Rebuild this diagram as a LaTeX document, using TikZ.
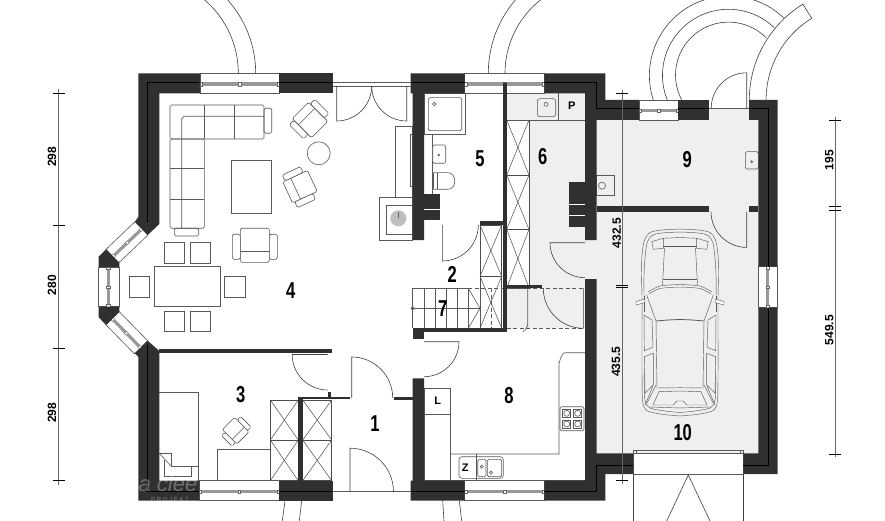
\documentclass[tikz,border=0pt]{standalone}
\usepackage{fontspec}
\setmainfont{Liberation Sans}
\newfontfamily\roomfont[FakeStretch=0.72]{Liberation Sans}
\usepackage{tikz}
\usetikzlibrary{calc, positioning}

\definecolor{wallgray}{HTML}{303030}
\definecolor{floorgray}{HTML}{EFEFEF}

\tikzset{
  wall/.style={fill=wallgray},
  core/.style={draw=black, line width=0.5pt},
  furn/.style={draw=black!65, line width=0.6pt},
  soft/.style={furn, rounded corners=1.5pt},
  crossline/.style={draw=black!70, line width=0.5pt},
  doorline/.style={draw=black!75, line width=0.6pt},
  carline/.style={draw=black!65, line width=0.45pt},
  dimline/.style={draw=black!60, line width=0.8pt},
  dimtick/.style={draw=black, line width=0.5pt},
  roomlabel/.style={font=\roomfont\fontsize{23}{23}\selectfont\bfseries, inner sep=0pt},
  marklabel/.style={font=\fontsize{11}{11}\selectfont\bfseries, inner sep=0pt},
  dimlabel/.style={font=\fontsize{12}{12}\selectfont\bfseries, inner sep=0pt, rotate=90},
  armchair/.pic={
    \draw[soft, fill=white] (-14.5,-17) rectangle (14.5,17);
    \draw[furn] (-14.5,6) -- (14.5,6);
    \draw[soft, fill=white] (-22.5,-11) rectangle (-14.5,14);
    \draw[soft, fill=white] (14.5,-11) rectangle (22.5,14);
  }
}

% x, y, length, depth, angle
\newcommand{\glazing}[5]{
  \begin{scope}[shift={(#1,#2)}, rotate=#5]
    \draw[furn, fill=white] (0,0) rectangle (#3,#4);
    \fill[black!40] (1,{0.45*#4}) rectangle ({#3-1},{0.62*#4});
    \foreach \sq in {1,0.5*#3,#3-1}
      \draw[draw=black!60, line width=0.3pt, fill=white] ({\sq-1.2},{0.45*#4}) rectangle ({\sq+1.2},{0.62*#4});
  \end{scope}
}

\begin{document}
\begin{tikzpicture}[x=1pt, y=-1pt]
  \useasboundingbox (0,0) rectangle (885,521);
  \clip (0,0) rectangle (885,521);
  \fill[white] (0,0) rectangle (885,521);

  % floors
  \fill[floorgray] (506.7,93.3) rectangle (597,328.3);
  \fill[floorgray] (596.7,120) -- (709.3,120) -- (709.3,108.3) -- (749,108.3) -- (749,120) -- (758.3,120) -- (758.3,453.3) -- (596.7,453.3) -- cycle;

  % swings outside
  \draw[doorline] (238.3,73.3) arc[start angle=0, end angle=-60, radius=96.7];
  \draw[doorline] (255.7,73.3) arc[start angle=0, end angle=-60, radius=110];
  \draw[doorline] (488.3,73.3) arc[start angle=180, end angle=240, radius=113];
  \draw[doorline] (505,73.3) arc[start angle=180, end angle=240, radius=93.6];
  \draw[doorline] (653.3,100) arc[start angle=162, end angle=314, radius=79.5];
  \draw[doorline] (667.3,100) arc[start angle=158, end angle=314, radius=66];
  \draw[doorline] (681.7,100) arc[start angle=152, end angle=315, radius=53];
  \draw[doorline] (749.3,100) arc[start angle=180, end angle=238.4, radius=112.5] -- (811.7,18.3) arc[start angle=238.4, end angle=180, radius=95.8];
  \draw[doorline] (285,500.7) -- (282.3,521);
  \draw[doorline] (301.7,500.7) -- (299.3,521);
  \draw[doorline] (442.7,500.7) -- (444,521);
  \draw[doorline] (459.3,500.7) -- (461.7,521);
  \draw[doorline] (633.3,453.3) -- (633.3,521);
  \draw[doorline] (743.3,453.3) -- (743.3,521);
  \draw[doorline] (666.7,521) -- (688.3,475) -- (710,521);

  % living room
  \draw[soft] (170,105) rectangle (264,139);
  \draw[soft] (170,139) rectangle (204.3,228.3);
  \draw[furn] (264,116.3) -- (184,116.3) to[out=180,in=-90] (181.7,119) -- (181.7,228.3);
  \draw[furn] (204.3,105) -- (204.3,139);
  \draw[furn] (234.3,105) -- (234.3,139);
  \foreach \rowy in {168.3,199}
    \draw[furn] (170,\rowy) -- (204.3,\rowy);
  \draw[soft] (264,108.3) rectangle (271.7,133.3);
  \draw[soft] (174.3,228.3) rectangle (198.7,236);
  \draw[furn] (231.3,160) rectangle (271.7,213.3);
  \draw[furn] (318.7,153.3) circle[radius=11.5];
  \pic[rotate=-135, scale=0.8] at (310,120) {armchair};
  \pic[rotate=-65, scale=0.8] at (300,186.7) {armchair};
  \pic at (254.8,245.3) {armchair};
  \draw[furn] (154,266.7) rectangle (220.7,306.7);
  \foreach \cx/\cy in {129.3/276.7,224.7/276.7,164/311,190.3/311,164/242.7,190.3/242.7}
    \draw[furn] (\cx,\cy) rectangle ++(20.2,20.4);
  \draw[furn] (395,126.7) rectangle (412.7,197.7);
  \draw[furn] (410.7,134.3) rectangle (412.7,186.7);
  \draw[furn] (379.3,197.7) rectangle (412.7,240);
  \draw[furn] (386,205) rectangle (412.7,234);
  \fill[black!25] (398.3,218.3) circle[radius=8];
  \draw[black!60, line width=0.8pt] (398.3,212) -- (398.3,218.3);

  % room 3
  \draw[furn] (159.3,392.3) -- (198.3,392.3) -- (198.3,480.7);
  \draw[furn] (159.3,453.3) -- (171,453.3) -- (171,466) -- (198.3,466);
  \draw[furn] (159.3,453.3) -- (171,466);
  \draw[furn] (164,460) -- (164,476.7) -- (191.7,476.7) -- (191.7,466);
  \draw[furn] (217.3,449.3) rectangle (270.3,480.7);
  \pic[rotate=45, scale=0.6] at (235.7,430.7) {armchair};
  \foreach \bx/\by/\bw/\bh in {270.3/400/28/40, 270.3/440/28/40.7, 302.7/400/29/40, 302.7/440/29/40.7, 480/225/21.7/51.3, 480/276.3/21.7/52, 506.7/120/22.3/55, 506.7/175/22.3/54.3, 506.7/229.3/22.3/58.7}{
    \fill[white] (\bx,\by) rectangle ++(\bw,\bh);
    \draw[crossline] (\bx,\by) rectangle ++(\bw,\bh);
    \draw[crossline] (\bx,\by) -- ++(\bw,\bh);
    \draw[crossline] (\bx+\bw,\by) -- ++(-\bw,\bh);
  }

  % bathroom
  \draw[furn] (424,93.3) rectangle (465,134);
  \draw[soft] (428.3,97.7) rectangle (461.7,130.7);
  \draw[furn] (434.3,104) circle[radius=1.8];
  \draw[furn] (424,134) -- (432.7,134) -- (432.7,194.3);
  \draw[soft, fill=white] (432.7,145) rectangle (445.7,163.3);
  \draw[furn] (438.7,155) circle[radius=1];
  \draw[furn] (433.3,172.7) -- (433.3,189.3);
  \draw[furn] (437.3,172.7) -- (437.3,189.3);
  \draw[furn] (433.3,172.7) -- (448,172.7) to[out=0,in=0,looseness=1.4] (448,189.3) -- (433.3,189.3);

  % room 6
  \draw[furn] (506.7,120) -- (585,120);
  \draw[furn] (558.3,93.3) -- (558.3,120);
  \draw[soft, rounded corners=2.5pt] (537.3,98.7) rectangle (555.7,116.7);
  \draw[furn] (546,104.3) circle[radius=2];
  \draw[furn] (527.7,288.3) -- (527.7,326) to[out=90,in=0] (523,331.7);
  \draw[furn, dashed, dash pattern=on 4pt off 2.5pt] (468.3,288.3) -- (585,288.3);
  \draw[furn, dashed, dash pattern=on 4pt off 2.5pt] (506.7,328.3) -- (585,328.3);

  % stairs
  \draw[furn] (468.3,288.3) -- (412.7,288.3) -- (412.7,328.3);
  \foreach \sx in {424,435,446.7,457.3,468.3,480}
    \draw[furn] (\sx,288.3) -- (\sx,328.3);
  \draw[furn] (412.7,308.3) -- (480,308.3);
  \draw[furn] (412.7,308.3) circle[radius=1.8];
  \draw[furn] (468.3,288.3) -- (480,308.3) -- (468.3,328.3);
  \draw[furn, dashed, dash pattern=on 4pt off 2.5pt] (491,288.3) -- (491,328.3);

  % kitchen
  \draw[furn] (424,388) rectangle (450.7,480.7);
  \draw[furn] (424,414.3) -- (450.7,414.3);
  \draw[furn] (450.7,454) -- (559,454) -- (559,362) to[out=-90,in=180] (565,352.7) -- (585,352.7);
  \draw[furn] (450.7,480) -- (585,480);
  \draw[furn] (476.7,454) -- (476.7,480.7);
  \draw[soft, rounded corners=3pt] (459,456.7) rectangle (503.3,478.3);
  \draw[soft] (477.7,459.3) rectangle (486,476.7);
  \draw[soft] (487.3,459.3) rectangle (501.7,476.7);
  \draw[furn] (481.7,466.7) circle[radius=1.6];
  \draw[furn] (491,472.7) circle[radius=1.6];
  \draw[soft, rounded corners=2pt] (560,406.7) rectangle (584,430.7);
  \foreach \hx in {566.7,577.7}
    \foreach \hy in {413.3,424}{
      \draw[furn] (\hx-4,\hy-4) rectangle (\hx+4,\hy+4);
      \draw[furn] (\hx,\hy) circle[radius=3];
    }

  % garage
  \draw[furn] (596.7,175.7) rectangle (614.3,195);
  \draw[furn] (602,185.7) circle[radius=3.5];
  \draw[soft] (745.3,151.7) rectangle (758.3,169);
  \draw[furn] (751.7,161.7) circle[radius=1];
  \draw[furn, fill=white] (633.3,453.3) rectangle (743.3,474);
  \draw[furn] (633.3,450.7) rectangle (743.3,453.3);
  \draw[furn] (636.5,450.7) -- (636.5,453.3) (740.3,450.7) -- (740.3,453.3);

  % car
  \foreach \side in {1,-1}{
    \begin{scope}[shift={(680,0)}, xscale=\side]
      \draw[carline] plot[smooth] coordinates {(0,229)(18,230)(30,232.5)(35.5,240)(38,255)(38.5,275)(38,296)(38,330)(38,372)(37.5,400)(34,410)(20,414)(0,416)};
      \draw[carline] plot[smooth] coordinates {(0,232)(18,233)(28,235.5)(33,243)(35,258)(36,275)(36,296)};
      \draw[carline] plot[smooth] coordinates {(36,375)(35,400)(30,408)(15,411)(0,412.5)};
      \draw[carline] (16.7,238.3) -- (28.3,241.7) -- (26.7,249.3) -- (16.7,248.3) -- cycle;
      \draw[carline] (0,237.5) -- (16.7,238.3);
      \draw[carline] (0,246) -- (16.7,246);
      \draw[carline] (15.5,248) -- (17.5,285);
      \draw[carline] (0,279) -- (17,279);
      \draw[carline] plot[smooth] coordinates {(0,284.5)(20,286)(32,292)};
      \draw[carline] plot[smooth] coordinates {(0,287)(20,288.5)(31,294)};
      \draw[carline] (33.3,295) -- (24,321);
      \draw[carline] (36,296) -- (36,312);
      \draw[carline] (36,315) -- (28,320) -- (27,347.3) -- (35.7,350.7) -- cycle;
      \draw[carline] (35.7,356.7) -- (26.7,353.3) -- (26.7,385) -- (35,393) -- cycle;
      \draw[carline, line width=0.8pt] plot[smooth] coordinates {(0,319.5)(12,320)(24,321)};
      \draw[carline] (24,321) -- (23,388);
      \draw[carline] (0,387.7) -- (23,388);
      \draw[carline] (24,385) -- (33,403);
      \draw[carline] (27,386) -- (35,405);
      \draw[carline] (0,391) -- (21,391.7) -- (27,405) -- (6.7,405) -- (3.3,401) -- (0,401);
      \draw[carline] (0,408) -- (30,407);
      \draw[carline, fill=white, rounded corners=1pt] (35,299) -- (44,301.5) -- (44,305) -- (35,302.5) -- cycle;
    \end{scope}
  }

  % windows
  \glazing{200}{73.3}{79}{20}{0}
  \glazing{199.3}{480.7}{79.7}{20}{0}
  \glazing{464.7}{73.3}{79.6}{20}{0}
  \glazing{464.7}{480.7}{79.6}{20}{0}
  \glazing{639}{100}{39.3}{20}{0}
  \glazing{777.7}{266.7}{41}{19.4}{-90}
  \glazing{119.3}{267}{39.7}{20.6}{-90}
  \glazing{106}{249.3}{40}{18.6}{43.6}
  \glazing{119.3}{311.7}{40.6}{18.7}{-45.6}

  % walls
  \fill[wall] (200,73.3) -- (138.3,73.3) -- (138.3,216.7) -- (135,221.7) -- (147.7,235) -- (159.3,224) -- (159.3,93.3) -- (200,93.3) -- cycle;
  \fill[wall] (147.7,340.7) -- (135,353.3) -- (138.3,357) -- (138.3,500.7) -- (199.3,500.7) -- (199.3,480.7) -- (159.3,480.7) -- (159.3,351) -- cycle;
  \fill[wall] (106,249.3) -- (98.7,256.7) -- (98.7,267) -- (119.3,267) -- (119.3,262.7) -- cycle;
  \fill[wall] (98.7,306.7) -- (98.7,317.3) -- (106,325) -- (119.3,311.7) -- (119.3,306.7) -- cycle;
  \fill[wall] (410.7,73.3) -- (464.7,73.3) -- (464.7,93.3) -- (424,93.3) -- (424,240) -- (412.7,240) -- (412.7,93.3) -- (410.7,93.3) -- cycle;
  \fill[wall] (544.3,73.3) -- (605.3,73.3) -- (605.3,100) -- (639,100) -- (639,120) -- (596.7,120) -- (596.7,240) -- (585,240) -- (585,93.3) -- (544.3,93.3) -- cycle;
  \fill[wall] (749,100) -- (777.7,100) -- (777.7,266.7) -- (758.3,266.7) -- (758.3,120) -- (749,120) -- cycle;
  \fill[wall] (758.3,307.7) -- (777.7,307.7) -- (777.7,474) -- (743.3,474) -- (743.3,453.3) -- (758.3,453.3) -- cycle;
  \fill[wall] (585,279) -- (596.7,279) -- (596.7,453.3) -- (633.3,453.3) -- (633.3,474) -- (605.3,474) -- (605.3,500.7) -- (544.3,500.7) -- (544.3,480.7) -- (585,480.7) -- cycle;
  \fill[wall] (412.7,378.3) -- (424,378.3) -- (424,480.7) -- (464.7,480.7) -- (464.7,500.7) -- (410.7,500.7) -- (410.7,480.7) -- (412.7,480.7) -- cycle;
  \foreach \ax/\ay/\bx/\by in {279/73.3/333.3/93.3, 279/480.7/333.3/500.7, 678.3/100/709.3/120, 159.3/349/331.7/353, 298.3/396.7/350/399.3, 298.3/396.7/302.7/481, 328.3/392/331/396.7, 394/396.7/412.7/399.7, 412.7/328.3/506.7/331.7, 412.7/328.3/424/339, 502.7/83/506.7/331.7, 480/221/503/225, 506.7/285/541.7/288.3, 596.7/205.7/709.3/211.7, 749/205.7/758.3/211.7, 424/194.3/440/220, 569.3/181.7/585/226.7}
    \fill[wall] (\ax,\ay) rectangle (\bx,\by);
  \draw[white, line width=0.3pt] (569.3,204) -- (585,204) (569.3,215) -- (585,215) (424,209) -- (440,209);

  % wall core lines
  \draw[core] (199.3,82.7) -- (147.3,82.7) -- (147.3,222);
  \draw[core] (147.3,345) -- (147.3,491.7) -- (199.3,491.7);
  \draw[core] (279,82.7) -- (333.3,82.7) (279,491.7) -- (333.3,491.7);
  \draw[core] (410.7,82.7) -- (464.7,82.7) (410.7,491.7) -- (464.7,491.7);
  \draw[core] (544.3,82.7) -- (596.7,82.7) -- (596.7,108.3) -- (639,108.3);
  \draw[core] (678.3,108.3) -- (709.3,108.3);
  \draw[core] (749,108.3) -- (768.3,108.3) -- (768.3,266.7) (768.3,307.7) -- (768.3,465) -- (743.3,465);
  \draw[core] (633.3,465) -- (596.7,465) -- (596.7,491.7) -- (544.3,491.7);

  % doors
  \draw[furn] (333.3,82.3) -- (410.7,82.3) (333.3,86) -- (410.7,86);
  \draw[furn] (333.3,491.7) -- (410.7,491.7);
  \draw[furn] (709.3,108.3) -- (749,108.3);
  \foreach \dx/\dy/\leaf/\sweep/\rad in {336.7/86/90/0/35, 406.7/86/90/180/35, 442.3/225/90/0/36, 327.7/354.5/180/90/35.5, 351.7/398/-90/0/41, 350/491.7/-90/0/43.5, 424/341.7/0/90/35, 585/242.7/180/90/35, 583.3/288.3/90/180/40, 746.7/108.3/-90/-180/35.5, 746.7/211.7/90/180/35.7}
    \draw[doorline] (\dx,\dy) -- ++(\leaf:\rad) arc[start angle=\leaf, end angle=\sweep, radius=\rad];

  % dimension lines
  \draw[dimline] (58.7,89) -- (58.7,485);
  \foreach \ty in {93.3,225.3,348.7,480.7}
    \draw[dimtick] (52.7,\ty) -- (64.7,\ty);
  \draw[dimline] (622.3,90) -- (622.3,484);
  \foreach \ty in {93.3,285,287.7,480.7}
    \draw[dimtick] (616.3,\ty) -- (628.3,\ty);
  \draw[dimline] (835,116.7) -- (835,457);
  \foreach \ty in {120,206,210,454}
    \draw[dimtick] (829,\ty) -- (841,\ty);

  % labels
  \node[dimlabel] (dimA) at (52,156.7) {298};
  \node[dimlabel] (dimB) at (52,285) {280};
  \node[dimlabel] (dimC) at (52,412.7) {298};
  \node[dimlabel] (dimD) at (616.7,233.3) {432.5};
  \node[dimlabel] (dimE) at (616,361.7) {435.5};
  \node[dimlabel] (dimF) at (829.3,160) {195};
  \node[dimlabel] (dimG) at (829.3,330) {549.5};
  \node[roomlabel] (room1) at (375,423.3) {1};
  \node[roomlabel] (room2) at (452.3,274) {2};
  \node[roomlabel] (room3) at (240.7,395) {3};
  \node[roomlabel] (room4) at (290.7,290.7) {4};
  \node[roomlabel] (room5) at (480,158.3) {5};
  \node[roomlabel] (room6) at (542.7,156.7) {6};
  \node[roomlabel] (room7) at (442.7,308.7) {7};
  \node[roomlabel] (room8) at (509,396) {8};
  \node[roomlabel] (room9) at (687.3,159.3) {9};
  \node[roomlabel] (room10) at (682.7,432.7) {10};
  \node[marklabel] (markP) at (571.7,105.7) {P};
  \node[marklabel] (markL) at (437.7,400.7) {L};
  \node[marklabel] (markZ) at (465.3,467.3) {Z};

  % watermark
  \node[font=\fontsize{22}{22}\selectfont\itshape, text=white, opacity=0.3, inner sep=0pt] (markA) at (168,484) {a clee};
  \node[font=\fontsize{6}{6}\selectfont, text=white, opacity=0.4, inner sep=0pt] (markB) at (170,499) {P R O J E K T};
\end{tikzpicture}
\end{document}
